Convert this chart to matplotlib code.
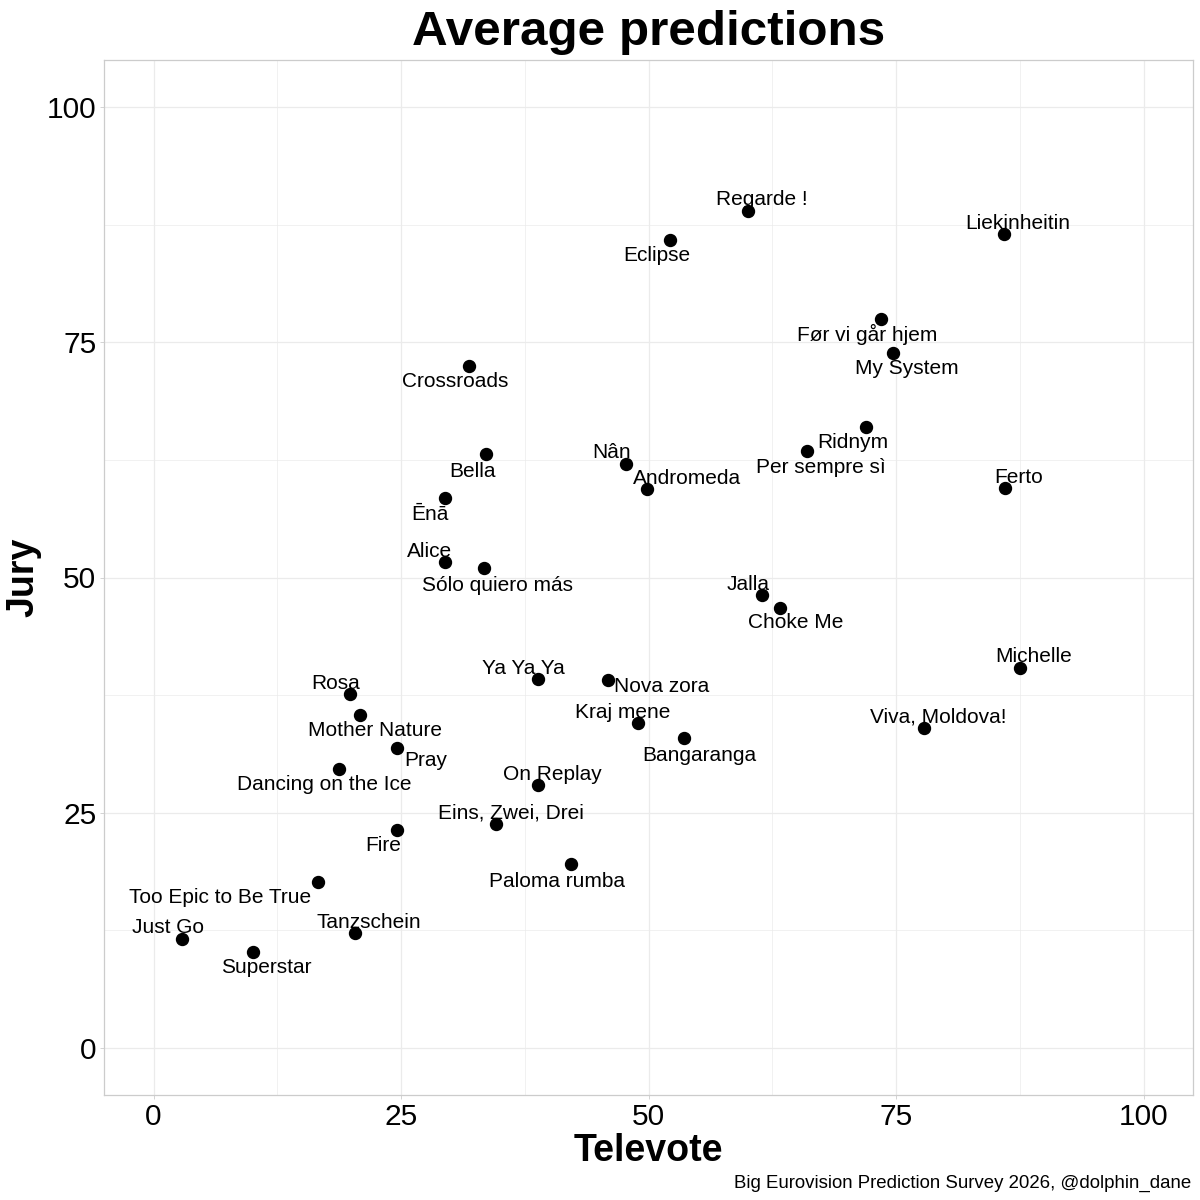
import matplotlib.pyplot as plt

plt.rcParams['font.family'] = ['Liberation Sans', 'DejaVu Sans']

# Average predictions per song (televote vs jury)
songs = ['Regarde !', 'Eclipse', 'Liekinheitin', 'Før vi går hjem', 'My System',
         'Crossroads', 'Ridnym', 'Per sempre sì', 'Bella', 'Nân', 'Andromeda',
         'Ferto', 'Ēnā', 'Alice', 'Sólo quiero más', 'Jalla', 'Choke Me',
         'Michelle', 'Rosa', 'Ya Ya Ya', 'Nova zora', 'Mother Nature',
         'Kraj mene', 'Viva, Moldova!', 'Bangaranga', 'Pray',
         'Dancing on the Ice', 'On Replay', 'Eins, Zwei, Drei', 'Fire',
         'Paloma rumba', 'Too Epic to Be True', 'Just Go', 'Tanzschein',
         'Superstar']
televote = [60.0, 52.2, 85.9, 73.5, 74.7, 31.9, 72.0, 66.0, 33.6, 47.7, 49.8,
            86.0, 29.4, 29.4, 33.4, 61.5, 63.3, 87.5, 19.8, 38.8, 45.9, 20.9,
            48.9, 77.8, 53.6, 24.6, 18.7, 38.8, 34.6, 24.6, 42.2, 16.6, 2.9,
            20.3, 10.0]
jury = [88.9, 85.9, 86.5, 77.5, 73.9, 72.5, 66.0, 63.4, 63.1, 62.1, 59.4,
        59.5, 58.5, 51.6, 51.0, 48.1, 46.8, 40.4, 37.6, 39.2, 39.1, 35.4,
        34.5, 34.0, 32.9, 31.9, 29.7, 27.9, 23.8, 23.2, 19.5, 17.6, 11.6,
        12.2, 10.2]

# label offsets from the point, in pixels (right, down)
label_offsets = [(14, -14), (-14, 14), (14, -13), (-14, 14), (14, 14),
                 (-14, 14), (-14, 14), (14, 14), (-14, 15), (-14, -13), (40, -13),
                 (14, -13), (-15, 15), (-15, -13), (13, 15), (-14, -13), (15, 13),
                 (14, -13), (-14, -13), (-14, -13), (54, 4), (15, 14),
                 (-15, -13), (14, -13), (15, 15), (29, 11),
                 (-14, 14), (15, -13), (15, -13), (-14, 14),
                 (-14, 15), (-98, 13), (-14, -13), (14, -13),
                 (14, 14)]

fig = plt.figure(figsize=(12, 12), dpi=100)
ax = fig.add_axes([0.0867, 0.0875, 0.9075, 0.8625])

ax.plot(televote, jury, 'o', color='black', markersize=8.6, zorder=3)
for name, x, y, (dx, dy) in zip(songs, televote, jury, label_offsets):
    ax.annotate(name, (x, y), xytext=(dx, -(dy + 2)), textcoords='offset pixels',
                ha='center', va='center', fontsize=15, color='black', zorder=4)

ax.set_xlim(-5, 105)
ax.set_ylim(-5, 105)
ticks = [0, 25, 50, 75, 100]
ax.set_xticks(ticks)
ax.set_yticks(ticks)
ax.set_xticks([12.5, 37.5, 62.5, 87.5], minor=True)
ax.set_yticks([12.5, 37.5, 62.5, 87.5], minor=True)
ax.grid(which='major', color='#ebebeb', linewidth=0.9)
ax.grid(which='minor', color='#ebebeb', linewidth=0.5)
ax.set_axisbelow(True)
for sp in ax.spines.values():
    sp.set_color('#cccccc')
    sp.set_linewidth(0.9)
ax.tick_params(which='major', length=3, width=0.6, color='#cccccc',
               labelsize=21.5, labelcolor='black', pad=2.5)
ax.tick_params(which='minor', length=0)

ax.set_xlabel('Televote', fontsize=27, fontweight='bold', labelpad=2)
ax.set_ylabel('Jury', fontsize=27, fontweight='bold', labelpad=4)
ax.set_title('Average predictions', fontsize=35.6, fontweight='bold', pad=10.5)
fig.text(0.9925, 0.0142, 'Big Eurovision Prediction Survey 2026, @dolphin_dane',
         ha='right', va='center', fontsize=13.4)

fig.savefig('out.png', dpi=100)
